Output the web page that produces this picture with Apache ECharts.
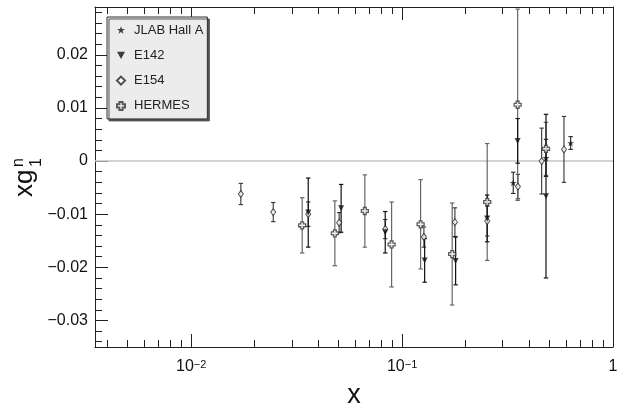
<!DOCTYPE html>
<html><head><meta charset="utf-8">
<script src="https://cdn.jsdelivr.net/npm/echarts@6/dist/echarts.min.js"></script>
<style>html,body{margin:0;padding:0;background:#fff}#c{width:617px;height:405px}</style>
</head><body><div id="c"></div>
<script>
const FONT = "'Liberation Sans', Arial, Helvetica, sans-serif";

// ---- data ----
const jlabX   = [0.3365, 0.4812, 0.6298];
const jlabY   = [-0.0041, 0.0006, 0.0034];
const jlabErr = [0.0020, 0.0035, 0.0012];

const e142X   = [0.0359, 0.0514, 0.0832, 0.1279, 0.1794, 0.2533, 0.3531, 0.4812];
const e142Y   = [-0.0097, -0.0089, -0.0134, -0.0187, -0.0188, -0.0108, 0.0038, -0.0066];
const e142Err = [0.0065, 0.0045, 0.0039, 0.0041, 0.0045, 0.0044, 0.0042, 0.0154];

const e154X   = [0.0172, 0.0245, 0.0359, 0.0503, 0.0832, 0.1269, 0.1780, 0.2533, 0.3542, 0.4590, 0.5855];
const e154Y   = [-0.0062, -0.0096, -0.0100, -0.0116, -0.0128, -0.0143, -0.0115, -0.0113, -0.0048, 0.0000, 0.0022];
const e154Err = [0.0020, 0.0018, 0.0023, 0.0019, 0.0018, 0.0019, 0.0027, 0.0028, 0.0023, 0.0062, 0.0062];

const hermesX   = [0.0336, 0.0480, 0.0666, 0.0892, 0.1224, 0.1728, 0.2533, 0.3531, 0.4812];
const hermesY   = [-0.0121, -0.0136, -0.0094, -0.0157, -0.0119, -0.0175, -0.0077, 0.0106, 0.0023];
const hermesErr = [0.0052, 0.0061, 0.0068, 0.0080, 0.0084, 0.0096, 0.0110, 0.0180, 0.0050];

const seriesNames = ['JLAB Hall A', 'E142', 'E154', 'HERMES'];

// axis ranges and ticks
const xMin = 0.0035, xMax = 1;
const yMin = -0.035, yMax = 0.029;
const xMajor = [0.01, 0.1, 1];
const xMinor = [0.004, 0.005, 0.006, 0.007, 0.008, 0.009,
                0.02, 0.03, 0.04, 0.05, 0.06, 0.07, 0.08, 0.09,
                0.2, 0.3, 0.4, 0.5, 0.6, 0.7, 0.8, 0.9];
const yMajor = [-0.03, -0.02, -0.01, 0, 0.01, 0.02];
const yMinor = [-0.034, -0.032, -0.028, -0.026, -0.024, -0.022, -0.018, -0.016, -0.014, -0.012,
                -0.008, -0.006, -0.004, -0.002, 0.002, 0.004, 0.006, 0.008,
                0.012, 0.014, 0.016, 0.018, 0.022, 0.024, 0.026, 0.028];
const xTickLabels = {'-2': '{b|10}{s|\u22122}', '-1': '{b|10}{s|\u22121}', '0': '{b|1}'};

const L = v => Math.log10(v);
const AX = '#222';

function xAxisDef(pos, ticks, len, opts) {
  return Object.assign({
    type: 'value', position: pos, min: L(xMin), max: L(xMax), gridIndex: 0,
    axisLine: {show: false, onZero: false},
    axisTick: {show: true, inside: true, length: len, customValues: ticks.map(L), lineStyle: {color: AX, width: 1}},
    axisLabel: {show: false},
    splitLine: {show: false}
  }, opts || {});
}
function yAxisDef(pos, ticks, len, opts) {
  return Object.assign({
    type: 'value', position: pos, min: yMin, max: yMax, gridIndex: 0,
    axisLine: {show: false, onZero: false},
    axisTick: {show: ticks.length > 0, inside: true, length: len, customValues: ticks, lineStyle: {color: AX, width: 1}},
    axisLabel: {show: false},
    splitLine: {show: false}
  }, opts || {});
}

const xAxes = [
  xAxisDef('bottom', xMajor, 13, {
    axisLine: {show: true, onZero: false, lineStyle: {color: AX, width: 1}},
    axisLabel: {show: true, customValues: xMajor.map(L), margin: 12,
      formatter: v => xTickLabels[String(Math.round(v))],
      rich: {b: {fontSize: 16, fontFamily: FONT, color: '#111'},
             s: {fontSize: 11, fontFamily: FONT, color: '#111', verticalAlign: 'top'}}},
    name: 'x', nameLocation: 'middle', nameGap: 35,
    nameTextStyle: {fontSize: 27, fontFamily: FONT, color: '#111'}
  }),
  xAxisDef('bottom', xMinor, 7),
  xAxisDef('top', xMajor, 13, {axisLine: {show: true, onZero: false, lineStyle: {color: AX, width: 1}}}),
  xAxisDef('top', xMinor, 7)
];
const yAxes = [
  yAxisDef('left', yMajor, 13, {
    axisLine: {show: true, onZero: false, lineStyle: {color: AX, width: 1}},
    axisLabel: {show: true, customValues: yMajor, margin: 7, fontSize: 16, fontFamily: FONT, color: '#111',
      formatter: v => (Math.abs(v) < 1e-9 ? '0' : String(+v.toFixed(2)).replace('-', '\u2212'))}
  }),
  yAxisDef('left', yMinor, 7),
  yAxisDef('right', [], 0, {axisLine: {show: true, onZero: false, lineStyle: {color: AX, width: 1}}})
];

function errSeries(name, xs, ys, es, color, lw, extra) {
  return Object.assign({
    type: 'custom', name: name, xAxisIndex: 0, yAxisIndex: 0, z: 3, silent: true,
    data: xs.map((x, i) => [L(x), ys[i], es[i]]),
    encode: {x: 0, y: 1},
    renderItem: (params, api) => {
      const x = api.value(0), y = api.value(1), e = api.value(2);
      const t = api.coord([x, y + e]), b = api.coord([x, y - e]);
      const w = 2.2;
      const st = {stroke: color, lineWidth: lw};
      return {type: 'group', children: [
        {type: 'line', shape: {x1: t[0], y1: t[1], x2: b[0], y2: b[1]}, style: st},
        {type: 'line', shape: {x1: t[0] - w, y1: t[1], x2: t[0] + w, y2: t[1]}, style: st},
        {type: 'line', shape: {x1: b[0] - w, y1: b[1], x2: b[0] + w, y2: b[1]}, style: st}
      ]};
    }
  }, extra || {});
}
function markSeries(name, xs, ys, symbol, size, itemStyle) {
  return {
    type: 'scatter', name: name, xAxisIndex: 0, yAxisIndex: 0, z: 5,
    data: xs.map((x, i) => [L(x), ys[i]]),
    symbol: symbol, symbolSize: size, itemStyle: itemStyle
  };
}

const STAR = 'path://M5,0 L6.2,3.6 L10,3.6 L6.9,5.8 L8.1,9.5 L5,7.2 L1.9,9.5 L3.1,5.8 L0,3.6 L3.8,3.6 Z';
const DTRI = 'path://M0,0 L10,0 L5,9 Z';
const OCROSS = 'path://M3,0 L7,0 L7,3 L10,3 L10,7 L7,7 L7,10 L3,10 L3,7 L0,7 L0,3 L3,3 Z';

const series = [
  errSeries('E154 err', e154X, e154Y, e154Err, '#333', 1.1, {
    z: 2,
    markLine: {silent: true, symbol: ['none', 'none'], label: {show: false}, z: 1,
      lineStyle: {color: '#c4c4c4', width: 1.5, type: 'solid'}, data: [{yAxis: 0}]}
  }),
  errSeries('HERMES err', hermesX, hermesY, hermesErr, '#666', 1.2),
  errSeries('E142 err', e142X, e142Y, e142Err, '#111', 1.2),
  errSeries('JLAB err', jlabX, jlabY, jlabErr, '#222', 1.1),
  markSeries('E154', e154X, e154Y, 'diamond', [5, 7], {color: '#fff', borderColor: '#222', borderWidth: 1}),
  markSeries('HERMES', hermesX, hermesY, OCROSS, 7, {color: '#fff', borderColor: '#333', borderWidth: 1.3}),
  markSeries('E142', e142X, e142Y, DTRI, [6, 6], {color: '#111'}),
  markSeries('JLAB Hall A', jlabX, jlabY, STAR, 7, {color: '#111'})
];

const chart = echarts.init(document.getElementById('c'), null, {renderer: 'canvas'});
chart.setOption({
  animation: false,
  backgroundColor: '#fff',
  grid: {left: 95, right: 4, top: 7, bottom: 58, containLabel: false, outerBoundsMode: 'none'},
  xAxis: xAxes,
  yAxis: yAxes,
  legend: {
    data: seriesNames, orient: 'vertical', left: 107, top: 17,
    itemWidth: 8, itemHeight: 8, itemGap: 9.3,
    padding: [5, 4, 5, 9],
    backgroundColor: '#ececec', borderColor: '#333', borderWidth: 1,
    shadowColor: '#555', shadowOffsetX: 2, shadowOffsetY: 2, shadowBlur: 0,
    selectedMode: false,
    textStyle: {fontSize: 13, fontFamily: FONT, color: '#222', lineHeight: 16, padding: [0, 0, 0, 4]}
  },
  graphic: [{
    type: 'group', x: 34, y: 197, rotation: Math.PI / 2, silent: true,
    children: [
      {type: 'text', x: 0, y: -8.7, style: {text: 'xg', fontSize: 26, fontFamily: FONT, fill: '#111', align: 'left', verticalAlign: 'middle'}},
      {type: 'text', x: 30, y: -15.5, style: {text: 'n', fontSize: 16, fontFamily: FONT, fill: '#111', align: 'left', verticalAlign: 'middle'}},
      {type: 'text', x: 30, y: 2.5, style: {text: '1', fontSize: 16, fontFamily: FONT, fill: '#111', align: 'left', verticalAlign: 'middle'}}
    ]
  }],
  series: series
});
</script></body></html>
